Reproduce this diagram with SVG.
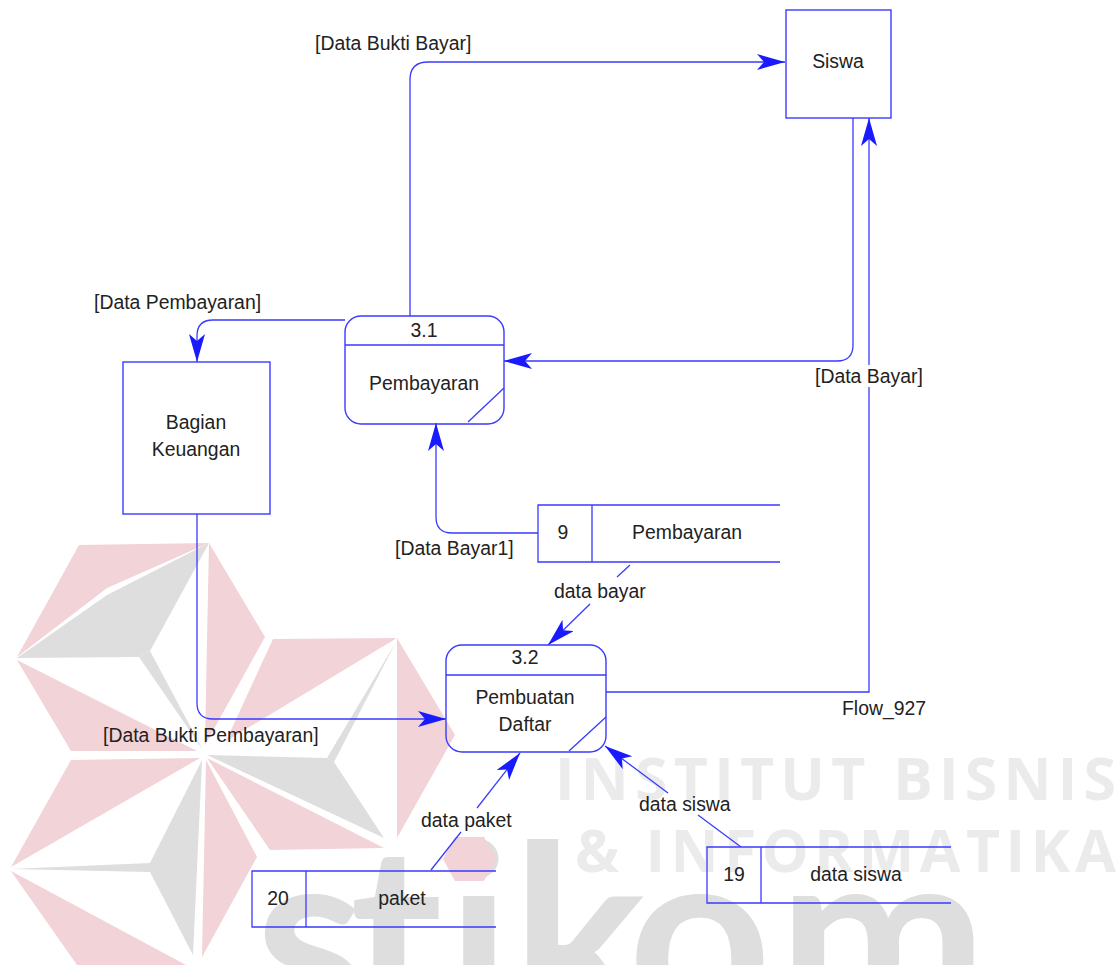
<svg xmlns="http://www.w3.org/2000/svg" width="1116" height="965" viewBox="0 0 1116 965">
<style>
.r{fill:#f2d3d7}.g{fill:#dedede}
.wm{font-family:"Open Sans","Liberation Sans",sans-serif;font-weight:700;fill:#ebebeb;font-size:59px}
.st{font-family:Lato,"Liberation Sans",sans-serif;font-weight:700;fill:#dedede;font-size:250px}
.n{fill:#fff;fill-opacity:0;stroke:#3a3aff;stroke-width:1.4}
.l{fill:none;stroke:#3a3aff;stroke-width:1.3}
text.t{font-family:"Liberation Sans",Arial,sans-serif;font-size:19.4px;fill:#222}
.c{text-anchor:middle}
</style>
<defs>
<marker id="a" markerUnits="userSpaceOnUse" markerWidth="30" markerHeight="20" refX="28" refY="8" orient="auto"><path d="M0,0 L28,8 L0,16 L7,8 Z" fill="#1a1aff"/></marker>
</defs>
<g id="watermark">
<polygon class="r" points="79,545 209,543 107,588 17,657"/>
<polygon class="g" points="17,658 107,595 209,543 150,651 139,657"/>
<polygon class="g" points="139,657 150,651 203,750"/>
<polygon class="r" points="209,543 265,637 205,745 207,640"/>
<polygon class="r" points="17,660 71,751 197,751"/>
<polygon class="r" points="273,639 397,638 226,741"/>
<polygon class="g" points="396,642 327,758 334,762"/>
<polygon class="g" points="207,755 327,758 334,762 384,838"/>
<polygon class="r" points="397,638 455,735 397,838"/>
<polygon class="r" points="207,758 384,848 270,850"/>
<polygon class="r" points="200,758 71,760 11,867"/>
<polygon class="g" points="11,869 150,863 150,872"/>
<polygon class="g" points="202,760 150,863 150,872 193,955"/>
<polygon class="r" points="11,871 186,965 77,965"/>
<polygon class="r" points="206,760 257,857 202,957"/>
<text class="wm" x="555" y="800" textLength="561">INSTITUT BISNIS</text>
<text class="wm" x="575" y="872" textLength="541">&amp; INFORMATIKA</text>
<text class="st" x="255 350 447 512 628 778" y="1024">stikom</text>
<polygon class="r" points="443,859 455,837 484,837 496,859 484,881 455,881"/>
</g>
<g id="connectors" class="l">
<path class="l" d="M410,316 V80 Q410,62 428,62 H785" marker-end="url(#a)"/>
<path class="l" d="M853,118 V345 Q853,361 837,361 H504" marker-end="url(#a)"/>
<path class="l" d="M606,692 H869 V387"/>
<path class="l" d="M869,365 V118" marker-end="url(#a)"/>
<path class="l" d="M345,320 H213 Q197,320 197,336 V362" marker-end="url(#a)"/>
<path class="l" d="M197,514 V703 Q197,719 213,719 H446" marker-end="url(#a)"/>
<path class="l" d="M538,533 H452 Q436,533 436,517 V423" marker-end="url(#a)"/>
<path class="l" d="M630,565 L617,577"/>
<path class="l" d="M590,604 L548,645" marker-end="url(#a)"/>
<path class="l" d="M431,870 L461,832"/>
<path class="l" d="M477,808 L520,753" marker-end="url(#a)"/>
<path class="l" d="M741,847 L698,815"/>
<path class="l" d="M668,793 L605,746" marker-end="url(#a)"/>
</g>
<g id="siswa"><rect class="n" x="786" y="10" width="105" height="108"/><text class="t c" x="838" y="68">Siswa</text></g>
<g id="bagian-keuangan"><rect class="n" x="123" y="362" width="147" height="152"/><text class="t c" x="196" y="429">Bagian</text><text class="t c" x="196" y="456">Keuangan</text></g>
<g id="p31"><rect class="n" x="345" y="316" width="159" height="108" rx="16"/><path class="l" d="M345,345 H504 M468,422 L504,388"/><text class="t c" x="424" y="337">3.1</text><text class="t c" x="424" y="390">Pembayaran</text></g>
<g id="p32"><rect class="n" x="446" y="645" width="160" height="107" rx="16"/><path class="l" d="M446,675 H606 M569,751 L606,717"/><text class="t c" x="525" y="664">3.2</text><text class="t c" x="525" y="704">Pembuatan</text><text class="t c" x="525" y="731">Daftar</text></g>
<g id="store9"><path class="l" d="M780,505 H538 V562 H780 M592,505 V562"/><text class="t c" x="563" y="539">9</text><text class="t c" x="687" y="539">Pembayaran</text></g>
<g id="store20"><path class="l" d="M496,871 H252 V927 H496 M306,871 V927"/><text class="t c" x="278" y="905">20</text><text class="t c" x="402" y="905">paket</text></g>
<g id="store19"><path class="l" d="M951,847 H707 V903 H951 M761,847 V903"/><text class="t c" x="734" y="881">19</text><text class="t c" x="856" y="881">data siswa</text></g>
<g id="labels">
<text class="t" x="315" y="50">[Data Bukti Bayar]</text>
<text class="t" x="94" y="309">[Data Pembayaran]</text>
<text class="t" x="815" y="383">[Data Bayar]</text>
<text class="t" x="395" y="555">[Data Bayar1]</text>
<text class="t" x="554" y="598">data bayar</text>
<text class="t" x="842" y="715">Flow_927</text>
<text class="t" x="103" y="742">[Data Bukti Pembayaran]</text>
<text class="t" x="421" y="827">data paket</text>
<text class="t" x="639" y="811">data siswa</text>
</g>
</svg>
